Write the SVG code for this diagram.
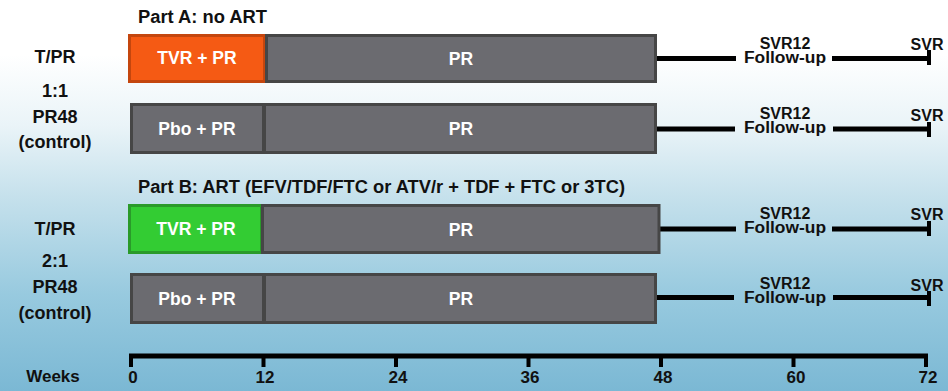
<svg xmlns="http://www.w3.org/2000/svg" width="948" height="391" viewBox="0 0 948 391">
  <defs>
    <linearGradient id="bg" x1="0" y1="0" x2="0" y2="1">
      <stop offset="0" stop-color="#ffffff"/>
      <stop offset="0.14" stop-color="#ffffff"/>
      <stop offset="0.32" stop-color="#eaf4f8"/>
      <stop offset="0.5" stop-color="#c6e1ec"/>
      <stop offset="0.75" stop-color="#98cadf"/>
      <stop offset="1" stop-color="#7bb8d4"/>
    </linearGradient>
  </defs>
  <style>
    text { font-family: "Liberation Sans", Arial, sans-serif; font-weight: bold; }
    .lbl { font-size: 18px; fill: #111111; text-anchor: middle; }
    .head { font-size: 18px; fill: #111111; }
    .box { font-size: 17.5px; fill: #ffffff; text-anchor: middle; }
    .fu { font-size: 16px; fill: #111111; text-anchor: middle; }
    .wk { font-size: 17px; fill: #111111; text-anchor: middle; }
    .gray { fill: #6b6b70; stroke: #464646; stroke-width: 3; }
    .tvrA { fill: #f55a14; stroke: #c4460e; stroke-width: 3; }
    .tvrB { fill: #33cc33; stroke: #2a9a2a; stroke-width: 3; }
    .line { stroke: #000000; stroke-width: 5; fill: none; }
    .tick { stroke: #000000; stroke-width: 4; fill: none; }
  </style>

  <rect x="0" y="0" width="948" height="391" fill="url(#bg)"/>

  <!-- section headings -->
  <text class="head" x="138" y="23" textLength="129" lengthAdjust="spacingAndGlyphs">Part A: no ART</text>
  <text class="head" x="138" y="193" textLength="487" lengthAdjust="spacingAndGlyphs">Part B: ART (EFV/TDF/FTC or ATV/r + TDF + FTC or 3TC)</text>

  <!-- arm labels -->
  <g id="labels-a">
    <text class="lbl" x="55" y="63">T/PR</text>
    <text class="lbl" x="55" y="97">1:1</text>
    <text class="lbl" x="55" y="123">PR48</text>
    <text class="lbl" x="55" y="148">(control)</text>
  </g>
  <g id="labels-b">
    <text class="lbl" x="55" y="235">T/PR</text>
    <text class="lbl" x="55" y="267">2:1</text>
    <text class="lbl" x="55" y="293">PR48</text>
    <text class="lbl" x="55" y="319">(control)</text>
  </g>

  <!-- follow-up lines, SVR end marks and week axis -->
  <g id="connectors">
    <line class="line" x1="657" y1="58.5" x2="736" y2="58.5"/>
    <line class="line" x1="832" y1="58.5" x2="929" y2="58.5"/>
    <line class="tick" x1="929" y1="50" x2="929" y2="65"/>

    <line class="line" x1="657" y1="129" x2="735" y2="129"/>
    <line class="line" x1="833" y1="129" x2="929" y2="129"/>
    <line class="tick" x1="929" y1="122" x2="929" y2="137"/>

    <line class="line" x1="660" y1="229" x2="736" y2="229"/>
    <line class="line" x1="832" y1="229" x2="929" y2="229"/>
    <line class="tick" x1="929" y1="221" x2="929" y2="236"/>

    <line class="line" x1="657" y1="297.5" x2="734" y2="297.5"/>
    <line class="line" x1="833" y1="297.5" x2="929" y2="297.5"/>
    <line class="tick" x1="929" y1="291" x2="929" y2="306"/>

    <line class="line" x1="129" y1="356" x2="928" y2="356"/>
    <line class="tick" x1="131" y1="354" x2="131" y2="367"/>
    <line class="tick" x1="263.5" y1="354" x2="263.5" y2="367"/>
    <line class="tick" x1="396" y1="354" x2="396" y2="367"/>
    <line class="tick" x1="528.5" y1="354" x2="528.5" y2="367"/>
    <line class="tick" x1="661" y1="354" x2="661" y2="367"/>
    <line class="tick" x1="793.5" y1="354" x2="793.5" y2="367"/>
    <line class="tick" x1="926" y1="354" x2="926" y2="367"/>
  </g>

  <!-- Part A, telaprevir arm -->
  <g id="a-tvr">
    <rect class="tvrA" x="129.5" y="35.5" width="135" height="46"/>
    <text class="box" x="197" y="64">TVR + PR</text>
  </g>
  <g id="a-tvr-pr">
    <rect class="gray" x="266.5" y="35.5" width="389" height="46"/>
    <text class="box" x="461" y="65">PR</text>
  </g>
  <g id="a-tvr-fu">
    <text class="fu" x="785" y="49">SVR12</text>
    <text class="fu" x="785" y="63" textLength="82" lengthAdjust="spacingAndGlyphs">Follow-up</text>
    <text class="fu" x="927" y="50">SVR</text>
  </g>

  <!-- Part A, control arm -->
  <g id="a-pbo">
    <rect class="gray" x="131.5" y="104.5" width="132" height="48"/>
    <text class="box" x="197" y="135">Pbo + PR</text>
  </g>
  <g id="a-pbo-pr">
    <rect class="gray" x="264.5" y="104.5" width="391" height="48"/>
    <text class="box" x="461" y="135">PR</text>
  </g>
  <g id="a-pbo-fu">
    <text class="fu" x="785" y="119">SVR12</text>
    <text class="fu" x="785" y="133" textLength="82" lengthAdjust="spacingAndGlyphs">Follow-up</text>
    <text class="fu" x="927" y="121">SVR</text>
  </g>

  <!-- Part B, telaprevir arm -->
  <g id="b-tvr">
    <rect class="tvrB" x="129.5" y="205.5" width="132" height="47"/>
    <text class="box" x="196" y="235">TVR + PR</text>
  </g>
  <g id="b-tvr-pr">
    <rect class="gray" x="262.5" y="205.5" width="396.5" height="47"/>
    <text class="box" x="461" y="236">PR</text>
  </g>
  <g id="b-tvr-fu">
    <text class="fu" x="785" y="219">SVR12</text>
    <text class="fu" x="785" y="233" textLength="82" lengthAdjust="spacingAndGlyphs">Follow-up</text>
    <text class="fu" x="927" y="220">SVR</text>
  </g>

  <!-- Part B, control arm -->
  <g id="b-pbo">
    <rect class="gray" x="131.5" y="274.5" width="132" height="48"/>
    <text class="box" x="197" y="305">Pbo + PR</text>
  </g>
  <g id="b-pbo-pr">
    <rect class="gray" x="264.5" y="274.5" width="391" height="48"/>
    <text class="box" x="461" y="305">PR</text>
  </g>
  <g id="b-pbo-fu">
    <text class="fu" x="785" y="289">SVR12</text>
    <text class="fu" x="785" y="303" textLength="82" lengthAdjust="spacingAndGlyphs">Follow-up</text>
    <text class="fu" x="927" y="291">SVR</text>
  </g>

  <!-- week axis labels -->
  <g id="axis-labels">
    <text class="wk" x="53" y="382">Weeks</text>
    <text class="wk" x="133" y="383">0</text>
    <text class="wk" x="265" y="383">12</text>
    <text class="wk" x="398" y="383">24</text>
    <text class="wk" x="530" y="383">36</text>
    <text class="wk" x="663" y="383">48</text>
    <text class="wk" x="796" y="383">60</text>
    <text class="wk" x="928" y="383">72</text>
  </g>
</svg>
